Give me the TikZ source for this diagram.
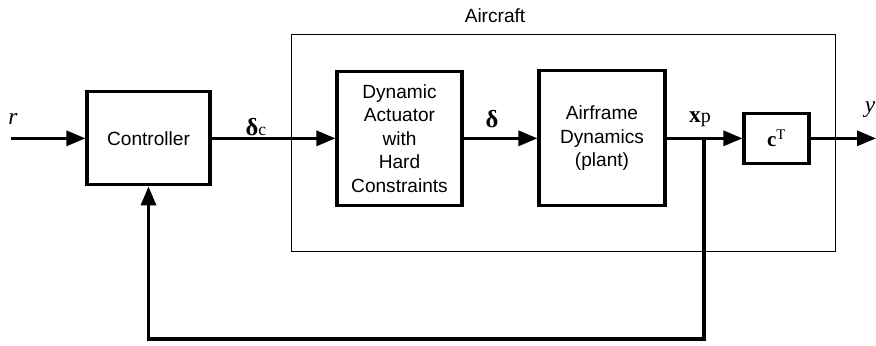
\documentclass[tikz,border=0pt]{standalone}
\usepackage{fontspec}
\setmainfont{Liberation Sans}
\newfontfamily\tmsfont{Liberation Serif}
\usetikzlibrary{arrows.meta}

\begin{document}
\begin{tikzpicture}[>={Triangle[length=0.57cm,width=0.45cm]}, line width=2.7pt, font=\fontsize{16.3}{20}\selectfont]
\useasboundingbox (0,0) rectangle (26.28,10.35);
\node[draw, rectangle, line width=0.8pt, minimum width=16.32cm, minimum height=6.51cm] (aircraft) at (16.89,6.075) {};
\node (aclabel) at (14.85,9.87) {Aircraft};
\node[draw, rectangle, align=center, minimum width=3.69cm, minimum height=2.79cm] (ctrl) at (4.455,6.2) {Controller};
\node[draw, rectangle, align=center, minimum width=3.75cm, minimum height=4.02cm] (act) at (11.985,6.2) {Dynamic\\Actuator\\with\\Hard\\Constraints};
\node[draw, rectangle, align=center, minimum width=3.78cm, minimum height=4.05cm] (plant) at (18.06,6.2) {Airframe\\Dynamics\\(plant)};
\node[draw, rectangle, align=center, minimum width=1.95cm, minimum height=1.5cm] (ct) at (23.295,6.2) {\tmsfont\fontsize{18}{20}\selectfont\textbf{c}\textsuperscript{T}};
\coordinate (rin) at (0.33,6.2);
\coordinate (branch) at (21.12,6.2);
\coordinate (yout) at (26.28,6.2);
\draw[->] (rin) -- (ctrl);
\draw[->] (ctrl) -- (act);
\draw[->] (act) -- (plant);
\draw (plant) -- (branch);
\draw[->] (branch) -- (ct);
\draw[->] (ct) -- (yout);
\draw[->] (branch) -- ++(0,-6.02) -| (ctrl.south);
% signal labels
\node (rlab) at (0.39,6.77) {\tmsfont\fontsize{20}{20}\selectfont\itshape r};
\node (dclab) at (7.68,6.55) {\tmsfont\fontsize{21}{20}\selectfont\textbf{δ}\fontsize{15}{16}\selectfont c};
\node (dlab) at (14.76,6.77) {\tmsfont\fontsize{21}{20}\selectfont\textbf{δ}};
\node (xlab) at (21.0,6.77) {\tmsfont\fontsize{20}{20}\selectfont\textbf{x}\fontsize{17}{18}\selectfont p};
\node (ylab) at (26.1,7.07) {\tmsfont\fontsize{20}{20}\selectfont\itshape y};
\end{tikzpicture}
\end{document}
